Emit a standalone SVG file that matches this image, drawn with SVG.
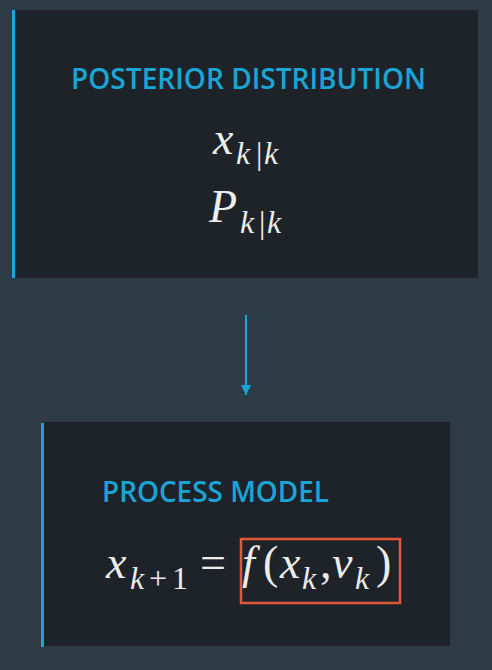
<svg xmlns="http://www.w3.org/2000/svg" width="492" height="670" viewBox="0 0 492 670">
<defs>
<style>
.box{fill:#1e2229}
.bar{fill:#1aa5d6}
.title{font-family:"Open Sans","Liberation Sans",sans-serif;font-weight:600;font-size:29px;fill:#1aa5d6}
.m{font-family:"Liberation Serif","DejaVu Serif",serif;font-style:italic;fill:#ececec}
.r{font-family:"Liberation Serif","DejaVu Serif",serif;fill:#ececec}
.big{font-size:46px}
.sub{font-size:32px}
</style>
<marker id="ah" markerWidth="12" markerHeight="10" refX="10" refY="5" orient="auto" markerUnits="userSpaceOnUse">
<path d="M0,0 L10,5 L0,10 Z" fill="#1aa5d6"/>
</marker>
</defs>
<rect width="492" height="670" fill="#2f3a47"/>
<g id="posterior">
<rect class="box" x="13" y="10" width="465" height="268"/>
<rect class="bar" x="12" y="10" width="3" height="268"/>
<text class="title" x="71" y="89" textLength="355" lengthAdjust="spacingAndGlyphs">POSTERIOR DISTRIBUTION</text>
<text class="m big" x="213" y="154">x</text>
<text class="m sub" x="236" y="164">k</text>
<text class="r sub" x="256" y="164">|</text>
<text class="m sub" x="264" y="164">k</text>
<text class="m big" x="209" y="222">P</text>
<text class="m sub" x="240" y="233">k</text>
<text class="r sub" x="259" y="233">|</text>
<text class="m sub" x="267" y="233">k</text>
</g>
<g id="process">
<rect class="box" x="42" y="422" width="408" height="224"/>
<rect class="bar" x="41" y="423" width="3" height="224"/>
<text class="title" x="102" y="502" textLength="227" lengthAdjust="spacingAndGlyphs">PROCESS MODEL</text>
<text class="m big" x="106" y="578">x</text>
<text class="m sub" x="130" y="589">k</text>
<text class="r sub" x="149" y="589">+</text>
<text class="r sub" x="172" y="589">1</text>
<text class="r big" x="200" y="578">=</text>
<text class="m big" x="242" y="578">f</text>
<text class="r big" x="263" y="578">(</text>
<text class="m big" x="280" y="578">x</text>
<text class="m sub" x="302" y="589">k</text>
<text class="r big" x="320" y="578">,</text>
<text class="m big" x="332" y="578">ν</text>
<text class="m sub" x="355" y="589">k</text>
<text class="r big" x="376" y="578">)</text>
<rect x="241" y="539" width="159" height="64" fill="none" stroke="#e0573a" stroke-width="2.5"/>
</g>
<g id="connectors">
<line x1="246" y1="315" x2="246" y2="395" stroke="#1aa5d6" stroke-width="2" marker-end="url(#ah)"/>
</g>
</svg>
